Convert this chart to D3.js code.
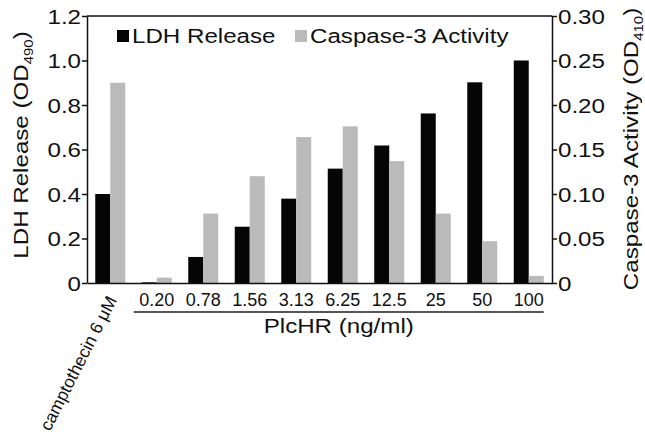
<!DOCTYPE html>
<html><head><meta charset="utf-8">
<script src="https://cdn.jsdelivr.net/npm/d3@7"></script>
<style>
body{margin:0;background:#fff;}
svg text{font-family:"Liberation Sans",Arial,Helvetica,sans-serif;fill:#111;}
</style></head>
<body>
<svg id="chart" width="645" height="436"></svg>
<script>
const categories = ["camptothecin 6 \u03bcM","0.20","0.78","1.56","3.13","6.25","12.5","25","50","100"];
const ldhRelease = [0.40, 0.003, 0.117, 0.253, 0.379, 0.514, 0.618, 0.762, 0.902, 1.0];
const caspaseActivity = [0.225, 0.006, 0.078, 0.12, 0.164, 0.176, 0.137, 0.078, 0.047, 0.008];
const leftTicks = [0, 0.2, 0.4, 0.6, 0.8, 1.0, 1.2];
const leftTickLabels = ["0","0.2","0.4","0.6","0.8","1.0","1.2"];
const rightTicks = [0, 0.05, 0.10, 0.15, 0.20, 0.25, 0.30];
const rightTickLabels = ["0","0.05","0.10","0.15","0.20","0.25","0.30"];
const seriesNames = ["LDH Release","Caspase-3 Activity"];

const K = 1.15; // horizontal glyph stretch
const svg = d3.select("#chart");
const L = 87, R = 552, T = 16, B = 283;

const x = d3.scaleBand().domain(categories).range([L, R]).paddingInner(0.355).paddingOuter(0.1775);
const bw = x.bandwidth()/2;
const yL = d3.scaleLinear().domain([0, 1.2]).range([B, T]);
const yR = d3.scaleLinear().domain([0, 0.30]).range([B, T]);

// bars
svg.append("g").selectAll("rect").data(categories).join("rect")
  .attr("x", d => x(d)).attr("width", bw)
  .attr("y", (d,i) => yL(ldhRelease[i])).attr("height", (d,i) => B - yL(ldhRelease[i]))
  .attr("fill", "#050505");
svg.append("g").selectAll("rect").data(categories).join("rect")
  .attr("x", d => x(d) + bw).attr("width", bw)
  .attr("y", (d,i) => yR(caspaseActivity[i])).attr("height", (d,i) => B - yR(caspaseActivity[i]))
  .attr("fill", "#bababa");

// top border
svg.append("line").attr("x1", L).attr("x2", R).attr("y1", T).attr("y2", T)
  .attr("stroke", "#111").attr("stroke-width", 1.5);

function styleAxis(g, side){
  g.select(".domain").attr("stroke", "#111").attr("stroke-width", 1.5);
  g.selectAll(".tick line").attr("stroke", "#111").attr("stroke-width", 1.5);
  g.selectAll(".tick text").attr("font-size", 21).attr("fill", "#111")
    .attr("x", side === "left" ? -6/K : 6/K).attr("dy", "0.35em")
    .attr("transform", `scale(${K},1)`);
}

const gl = svg.append("g").attr("transform", `translate(${L},0)`)
  .call(d3.axisLeft(yL).tickValues(leftTicks).tickSize(5).tickSizeOuter(0)
    .tickFormat((d,i) => leftTickLabels[i]));
styleAxis(gl, "left");

const gr = svg.append("g").attr("transform", `translate(${R},0)`)
  .call(d3.axisRight(yR).tickValues(rightTicks).tickSize(5).tickSizeOuter(0)
    .tickFormat((d,i) => rightTickLabels[i]));
styleAxis(gr, "right");

const gb = svg.append("g").attr("transform", `translate(0,${B})`)
  .call(d3.axisBottom(x).tickSize(0).tickSizeOuter(0));
gb.select(".domain").attr("stroke", "#111").attr("stroke-width", 1.5);
gb.selectAll(".tick text").attr("font-size", 18).attr("fill", "#111").attr("y", 0).attr("dy", "1.25em");
gb.selectAll(".tick").filter((d,i) => i === 0).select("text")
  .attr("text-anchor", "end").attr("dy", 0).attr("y", 0).attr("font-size", 17.5)
  .attr("transform", "translate(7,17) rotate(-63)");

// bracket under PlcHR concentrations
const x0 = x(categories[1]) - 8, x1 = x(categories[categories.length-1]) + x.bandwidth();
svg.append("line").attr("x1", x0).attr("x2", x1).attr("y1", 312).attr("y2", 312)
  .attr("stroke", "#555").attr("stroke-width", 2);
svg.append("text").attr("text-anchor", "middle").attr("font-size", 21)
  .attr("transform", `translate(${(x0+x1)/2},333) scale(${K},1)`).text("PlcHR (ng/ml)");

// axis titles
function yTitle(cx, cy, main, sub){
  const t = svg.append("text").attr("text-anchor", "middle").attr("font-size", 21)
    .attr("transform", `translate(${cx},${cy}) rotate(-90) scale(${K},1)`);
  t.append("tspan").text(main + " (OD");
  t.append("tspan").attr("font-size", 13).attr("dy", 5).text(sub);
  t.append("tspan").attr("dy", -5).text(")");
}
yTitle(28, 145, "LDH Release", "490");
yTitle(638, 149, "Caspase-3 Activity", "410");

// legend
const legend = [
  {name: seriesNames[0], color: "#050505", x: 117},
  {name: seriesNames[1], color: "#bababa", x: 295}
];
legend.forEach(l => {
  svg.append("rect").attr("x", l.x).attr("y", 30).attr("width", 12).attr("height", 12).attr("fill", l.color);
  svg.append("text").attr("font-size", 21)
    .attr("transform", `translate(${l.x+15},43) scale(${K},1)`).text(l.name);
});
</script>
</body></html>
